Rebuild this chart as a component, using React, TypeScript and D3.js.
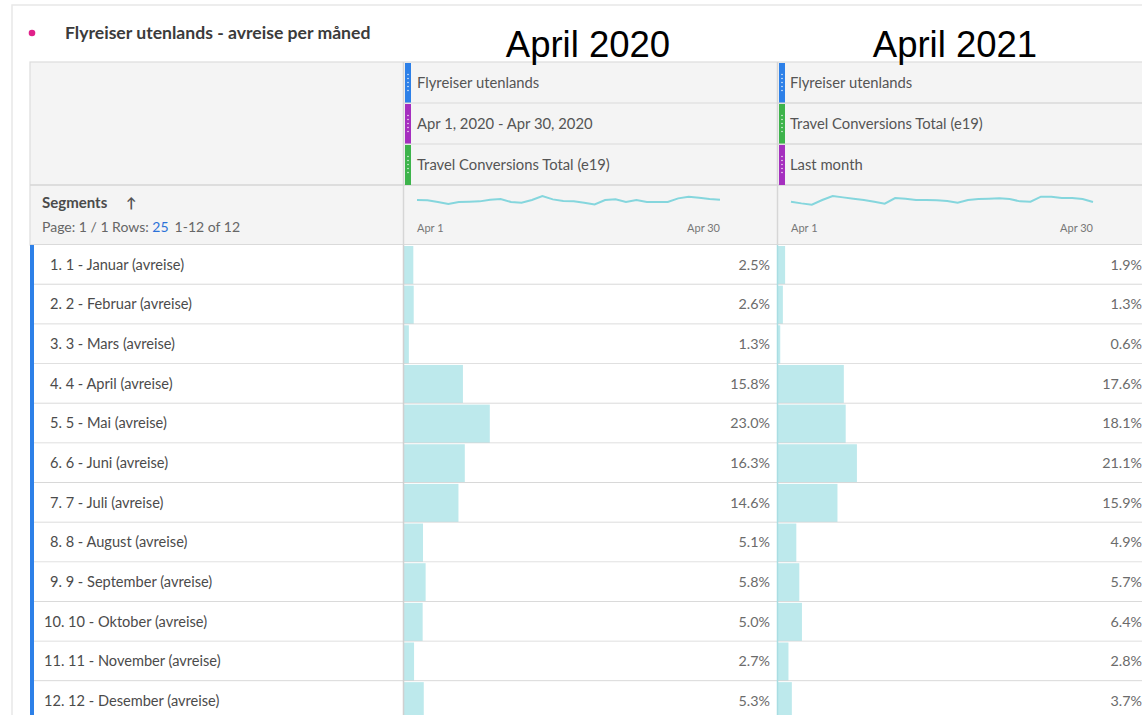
import React from "react";
import * as d3 from "d3";

const months = ["Januar", "Februar", "Mars", "April", "Mai", "Juni", "Juli", "August", "September", "Oktober", "November", "Desember"];
const april2020 = [2.5, 2.6, 1.3, 15.8, 23.0, 16.3, 14.6, 5.1, 5.8, 5.0, 2.7, 5.3];
const april2021 = [1.9, 1.3, 0.6, 17.6, 18.1, 21.1, 15.9, 4.9, 5.7, 6.4, 2.8, 3.7];
const spark2020 = [20, 19, 14, 8, 14, 15, 16, 21, 23, 14, 12, 20, 32, 22, 17, 16, 12, 7, 20, 22, 14, 20, 14, 14, 14, 25, 30, 27, 23, 21];
const spark2021 = [15, 10, 6, 20, 32, 28, 24, 20, 15, 9, 26, 24, 20, 20, 19, 17, 12, 20, 23, 24, 25, 23, 16, 15, 30, 30, 26, 26, 23, 14];
const columnTitles = ["April 2020", "April 2021"];
const headerRows2020 = ["Flyreiser utenlands", "Apr 1, 2020 - Apr 30, 2020", "Travel Conversions Total (e19)"];
const headerRows2021 = ["Flyreiser utenlands", "Travel Conversions Total (e19)", "Last month"];
const stripColors2020 = ["#2d80e8", "#a52fbf", "#3db34b"];
const stripColors2021 = ["#2d80e8", "#3db34b", "#a52fbf"];

const W = 1142;
const H = 715;
const FONT = "Lato, 'Open Sans', sans-serif";

const tableLeft = 30;
const tableTop = 62;
const headerRowH = 41;
const segTop = 185;
const rowsTop = 245;
const rowH = 39.65;
const cols = [
  { x0: 404, x1: 777, textX: 417, valueRight: 770 },
  { x0: 778, x1: 1152, textX: 790, valueRight: 1142 },
];

function Strip({ x, y, h, color }: { x: number; y: number; h: number; color: string }) {
  const dots = d3.range(5).map((i) => y + h / 2 - 8 + i * 4);
  return (
    <g>
      <rect x={x} y={y + 1} width={6} height={h - 1} fill={color} />
      {dots.map((dy, i) => (
        <circle key={i} cx={x + 3} cy={dy} r={0.8} fill="#ffffff" opacity={0.85} />
      ))}
    </g>
  );
}

export default function App() {
  const rowY = d3.scaleLinear().domain([0, 1]).range([rowsTop, rowsTop + rowH]);
  const barScales = cols.map((c) => d3.scaleLinear().domain([0, 100]).range([0, c.x1 - c.x0]));
  const values = [april2020, april2021];
  const sparks = [spark2020, spark2021];
  const headers = [headerRows2020, headerRows2021];
  const strips = [stripColors2020, stripColors2021];
  const sparkX = [
    d3.scaleLinear().domain([0, 29]).range([417, 720]),
    d3.scaleLinear().domain([0, 29]).range([791, 1093]),
  ];
  const sparkY = d3.scaleLinear().domain([0, 30]).range([206.7, 196.7]);
  const line = (i: number) =>
    d3
      .line<number>()
      .x((_, j) => sparkX[i](j))
      .y((d) => sparkY(d))
      .curve(d3.curveLinear)(sparks[i]) as string;

  return (
    <svg width={W} height={H} style={{ position: "absolute", left: 0, top: 0, background: "#fff" }} fontFamily={FONT}>
      {/* card */}
      <rect x={12} y={5} width={W} height={H} fill="#fff" stroke="#e8e8e8" strokeWidth={1.5} />
      <circle cx={32} cy={33} r={3.3} fill="#e0218a" />
      <text x={65} y={39} fontSize={17.6} fontWeight={700} fill="#3b3b3b">
        Flyreiser utenlands - avreise per måned
      </text>

      {/* header background */}
      <rect x={tableLeft} y={tableTop} width={W} height={rowsTop - tableTop} fill="#f4f4f4" stroke="#dcdcdc" strokeWidth={1.2} />
      <line x1={tableLeft} x2={W} y1={segTop} y2={segTop} stroke="#d6d6d6" strokeWidth={1.5} />
      <line x1={tableLeft} x2={W} y1={rowsTop} y2={rowsTop} stroke="#d6d6d6" strokeWidth={1.5} />

      {/* column titles */}
      {columnTitles.map((t, i) => (
        <text key={t} x={i === 0 ? 588 : 955} y={57} fontSize={36.5} textAnchor="middle" fontFamily="'Liberation Sans', Arial, sans-serif" fill="#000">
          {t}
        </text>
      ))}

      {/* header rows per column */}
      {cols.map((c, ci) => (
        <g key={ci}>
          <line x1={c.x0 - 0.5} x2={c.x0 - 0.5} y1={tableTop} y2={H} stroke="#d6d6d6" strokeWidth={1.5} />
          {headers[ci].map((h, ri) => {
            const y = tableTop + ri * headerRowH;
            return (
              <g key={ri}>
                <Strip x={c.x0 + 1} y={y} h={headerRowH} color={strips[ci][ri]} />
                {ri > 0 && <line x1={c.x0} x2={W} y1={y} y2={y} stroke="#d9d9d9" strokeWidth={1.2} />}
                <text x={c.textX} y={y + headerRowH / 2 + 5} fontSize={14.8} fill="#555">
                  {h}
                </text>
              </g>
            );
          })}
          <path d={line(ci)} fill="none" stroke="#85d6dd" strokeWidth={2} />
          <text x={sparkX[ci].range()[0]} y={232} fontSize={11} fill="#777">
            Apr 1
          </text>
          <text x={sparkX[ci].range()[1]} y={232} fontSize={11} fill="#777" textAnchor="end">
            Apr 30
          </text>
        </g>
      ))}

      {/* segments header */}
      <text x={42} y={208} fontSize={15} fontWeight={700} fill="#4b4b4b">
        Segments
      </text>
      <text x={126} y={208} fontSize={14} fontWeight={700} fill="#555">
        ↑
      </text>
      <text x={42} y={232} fontSize={14} fill="#666">
        Page: 1 / 1 Rows:{" "}
        <tspan fill="#2c72d8">25</tspan>
        <tspan dx={6}>1-12 of 12</tspan>
      </text>

      {/* data rows */}
      {months.map((m, i) => {
        const y0 = rowY(i);
        const y1 = rowY(i + 1);
        return (
          <g key={m}>
            <rect x={tableLeft} y={y0} width={W} height={rowH} fill="#fff" />
            {cols.map((c, ci) => (
              <g key={ci}>
                <rect x={c.x0} y={y0 + 1} width={barScales[ci](values[ci][i])} height={rowH - 1} fill="#bde9ec" />
                <text x={c.valueRight} y={(y0 + y1) / 2 + 5} fontSize={14.3} fill="#6b6b6b" textAnchor="end">
                  {values[ci][i].toFixed(1)}%
                </text>
              </g>
            ))}
            <text x={i + 1 >= 10 ? 44 : 50} y={(y0 + y1) / 2 + 5} fontSize={14.6} fill="#4b4b4b">
              {`${i + 1}. ${i + 1} - ${m} (avreise)`}
            </text>
            <line x1={tableLeft} x2={W} y1={y1} y2={y1} stroke="#d4d4d4" strokeWidth={1.6} />
          </g>
        );
      })}
      {cols.map((c, ci) => (
        <line key={ci} x1={c.x0 - 0.5} x2={c.x0 - 0.5} y1={rowsTop} y2={H} stroke={ci === 0 ? "#d0d0d0" : "#a9dde2"} strokeWidth={1.5} />
      ))}
      <rect x={tableLeft} y={rowsTop} width={4} height={H - rowsTop} fill="#2d80e8" />
    </svg>
  );
}
